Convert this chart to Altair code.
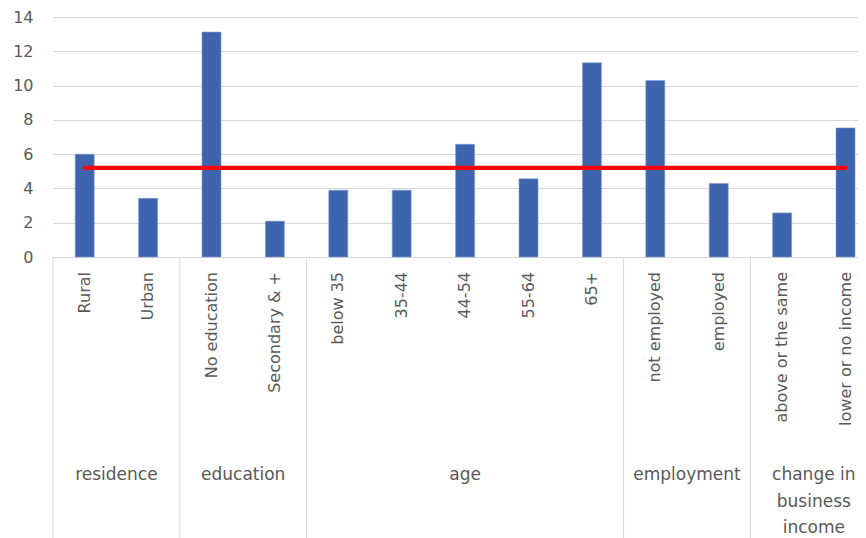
import altair as alt
import pandas as pd

# ---- data ----
categories = ["Rural", "Urban", "No education", "Secondary & +", "below 35", "35-44",
              "44-54", "55-64", "65+", "not employed", "employed",
              "above or the same", "lower or no income"]
values = [6.0, 3.42, 13.12, 2.09, 3.9, 3.9, 6.57, 4.56, 11.33, 10.29, 4.29, 2.57, 7.53]
groups = ["residence", "residence", "education", "education", "age", "age", "age",
          "age", "age", "employment", "employment",
          "change in business income", "change in business income"]
group_labels = {"residence": "residence", "education": "education", "age": "age",
                "employment": "employment",
                "change in business income": "change in\nbusiness\nincome"}
average = 5.2
y_ticks = [0, 2, 4, 6, 8, 10, 12, 14]

# ---- tables ----
df = pd.DataFrame({"idx": range(len(categories)), "category": categories,
                   "value": values, "group": groups})

order = []
for g in groups:
    if g not in order:
        order.append(g)
grp_rows = []
for g in order:
    idxs = df.index[df["group"] == g].tolist()
    grp_rows.append({"group": g, "label": group_labels[g],
                     "center": (idxs[0] + idxs[-1]) / 2,
                     "left": idxs[0] - 0.5, "right": idxs[-1] + 0.5})
gdf = pd.DataFrame(grp_rows)
bounds = pd.DataFrame({"b": sorted(set(gdf["left"]).union(gdf["right"]))})
avg_df = pd.DataFrame({"x1": [0], "x2": [len(categories) - 1], "avg": [average]})

PLOT_W, PLOT_H = 805, 240
BAND = 63.4
x_scale = alt.Scale(domain=[-0.5, -0.5 + PLOT_W / BAND], nice=False, zero=False, padding=0)
y_scale = alt.Scale(domain=[0, 14], nice=False, padding=0)
GRAY = "#595959"
FONT = "DejaVu Sans"

y_axis = alt.Axis(values=y_ticks, grid=True, gridColor="#d9d9d9", gridWidth=1,
                  domain=False, ticks=False, labelPadding=20, labelFontSize=16,
                  labelOverlap=False, labelFont=FONT, labelColor=GRAY, title=None)

base = alt.Chart(df)

bars = base.mark_bar(size=19, color="#3d64ad", stroke="#7f9bd0", strokeWidth=0.6).encode(
    x=alt.X("idx:Q", scale=x_scale, axis=None),
    y=alt.Y("value:Q", scale=y_scale, axis=y_axis),
)

avg_line = alt.Chart(avg_df).mark_rule(color="#ff0000", strokeWidth=4.3, strokeCap="round").encode(
    x=alt.X("x1:Q", scale=x_scale, axis=None),
    x2="x2:Q",
    y=alt.Y("avg:Q", scale=y_scale, axis=y_axis),
)

cat_labels = base.mark_text(angle=270, align="right", baseline="middle", fontSize=16,
                            font=FONT, color=GRAY).encode(
    x=alt.X("idx:Q", scale=x_scale, axis=None),
    y=alt.value(255),
    text="category:N",
)

seps = alt.Chart(bounds).mark_rule(color="#d9d9d9", strokeWidth=1).encode(
    x=alt.X("b:Q", scale=x_scale, axis=None),
    y=alt.value(PLOT_H),
    y2=alt.value(530),
)

grp_text = alt.Chart(gdf).mark_text(align="center", baseline="top", fontSize=17, font=FONT,
                                    color=GRAY, lineBreak="\n", lineHeight=26.5).encode(
    x=alt.X("center:Q", scale=x_scale, axis=None),
    y=alt.value(450),
    text="label:N",
)

chart = alt.layer(bars, avg_line, seps, cat_labels, grp_text).properties(
    width=PLOT_W, height=PLOT_H,
    autosize=alt.AutoSizeParams(type="none"),
    padding={"left": 45, "top": 9, "right": 0, "bottom": 281},
    background="white",
).configure_view(stroke=None)

chart.save("out.html", embed_options={"renderer": "svg", "actions": False})
